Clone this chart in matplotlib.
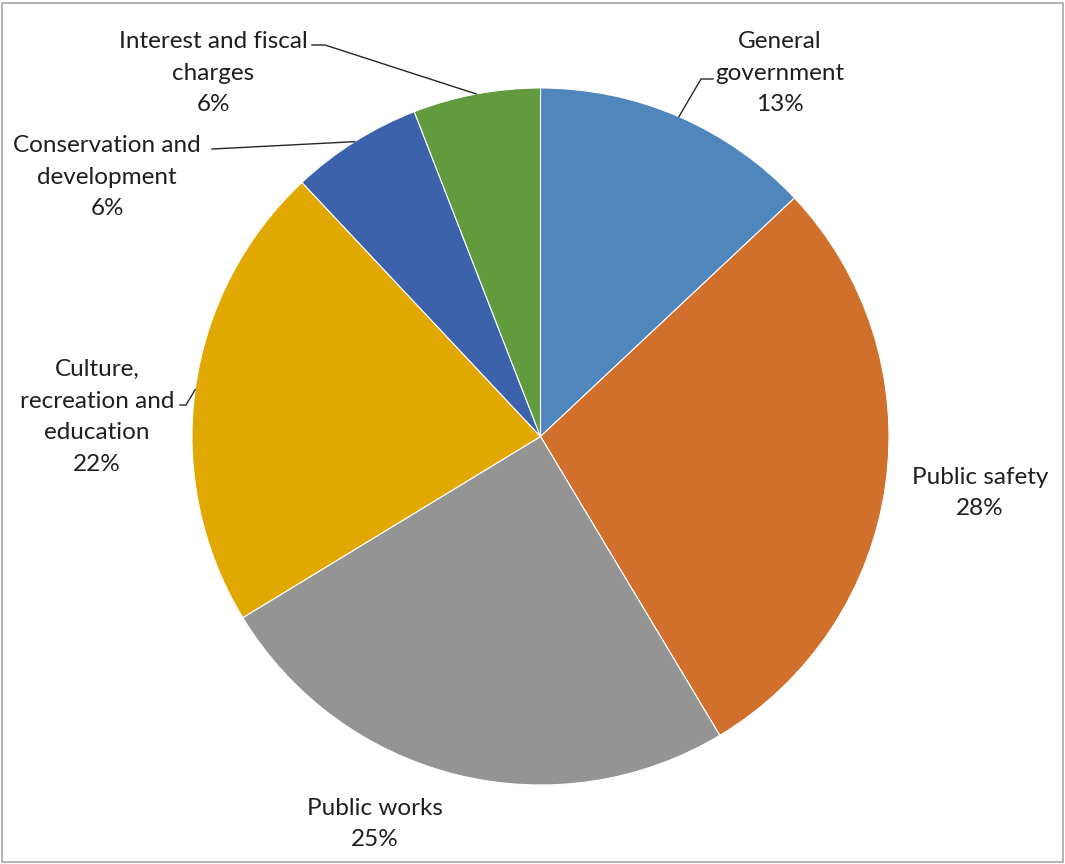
import matplotlib
matplotlib.use("Agg")
import matplotlib.pyplot as plt
from matplotlib.patches import Rectangle
import numpy as np

categories = ["General\ngovernment", "Public safety", "Public works",
              "Culture,\nrecreation and\neducation", "Conservation and\ndevelopment",
              "Interest and fiscal\ncharges"]
values = [13.0, 28.4, 24.9, 21.7, 6.1, 5.9]
colors = ["#4F87BD", "#D0702C", "#949494", "#E0A800", "#3B62AA", "#629A3E"]

W, H = 1065, 864
fig = plt.figure(figsize=(W / 100, H / 100), dpi=100)
ax = fig.add_axes([0, 0, 1, 1])

def P(x, y):
    # pixel (top-left origin) -> data coords
    return x, H - y

cx, cy = P(540.5, 436.5)
R = 348.5
wedges, _ = ax.pie(values, colors=colors, startangle=90, counterclock=False,
                   center=(cx, cy), radius=R,
                   wedgeprops=dict(edgecolor="white", linewidth=0.8))
ax.set_xlim(0, W)
ax.set_ylim(0, H)
ax.set_aspect("equal")
ax.axis("off")

# label layout: text centre (pixels), leader path points from text side (pixels)
layout = [
    ((780, 73), [(713, 79), (701, 79)]),
    ((980, 493), None),
    ((375, 824), None),
    ((97, 417), [(180, 405), (186, 405)]),
    ((107, 177), [(212, 149)]),
    ((213, 73), [(312, 45), (325, 45)]),
]

font = dict(family=["Lato", "DejaVu Sans"], fontsize=17.5, color="#1F1F1F")
for w, name, v, (tc, leader) in zip(wedges, categories, values, layout):
    ax.text(*P(*tc), f"{name}\n{round(v)}%", ha="center", va="center",
            linespacing=1.62, **font)
    if leader:
        mid = np.deg2rad((w.theta1 + w.theta2) / 2)
        ex, ey = cx + R * np.cos(mid), cy + R * np.sin(mid)
        pts = [P(*p) for p in leader] + [(ex, ey)]
        xs, ys = zip(*pts)
        ax.plot(xs, ys, color="#262626", lw=1.0)

fig.patches.append(Rectangle((0.002, 0.002), 0.996, 0.995, transform=fig.transFigure,
                             fill=False, edgecolor="#A6A6A6", lw=1.2))
fig.savefig("out.png", dpi=100, facecolor="white")
